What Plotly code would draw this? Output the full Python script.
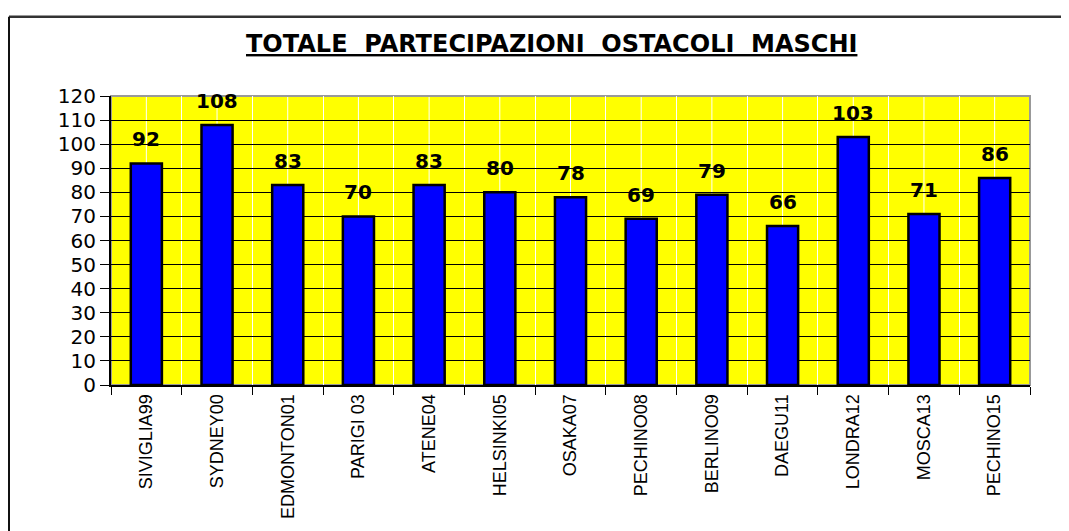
import plotly.graph_objects as go

# dati
edizioni = ["SIVIGLIA99", "SYDNEY00", "EDMONTON01", "PARIGI 03", "ATENE04", "HELSINKI05",
            "OSAKA07", "PECHINO08", "BERLINO09", "DAEGU11", "LONDRA12", "MOSCA13", "PECHINO15"]
partecipazioni = [92, 108, 83, 70, 83, 80, 78, 69, 79, 66, 103, 71, 86]
y_ticks = list(range(0, 121, 10))

# la pagina html ha 8px di margine sul body
O = 8
W, H = 1069 - O, 531 - O
# area grafico in coordinate schermo: x 111..1030, y 96..388
L, R, T, B = 111 - O, 1069 - 1030, 96 - O, 531 - 388
pw, ph = W - L - R, H - T - B


def px_x(p):
    return (p - O - L) / pw


def px_y(p):
    return (H - B - (p - O)) / ph


fig = go.Figure()
fig.add_bar(x=edizioni, y=partecipazioni, width=0.44,
            marker_color="#0000FF", marker_line_color="black", marker_line_width=2.5,
            hoverinfo="x+y")

# etichette valori sopra le barre
for e, v in zip(edizioni, partecipazioni):
    fig.add_annotation(x=e, y=v, text="<b>%d</b>" % v, showarrow=False,
                       yanchor="bottom", yshift=10,
                       font=dict(family="DejaVu Sans, Arial", size=20, color="black"))

# griglia verticale bianca al centro delle categorie
for e in edizioni:
    fig.add_shape(type="line", xref="x", yref="paper", x0=e, x1=e, y0=0, y1=1,
                  line=dict(color="white", width=1), layer="below")

# bordo area grafico
fig.add_shape(type="rect", xref="paper", yref="paper", x0=0, x1=1, y0=0, y1=1,
              line=dict(color="#999999", width=2), layer="below")

# cornice esterna (sopra e a sinistra)
fig.add_shape(type="line", xref="paper", yref="paper", x0=px_x(9), x1=px_x(1075),
              y0=px_y(16), y1=px_y(16), line=dict(color="#333333", width=2.5))
fig.add_shape(type="line", xref="paper", yref="paper", x0=px_x(9), x1=px_x(9),
              y0=px_y(16), y1=px_y(540), line=dict(color="#111111", width=2))

# titolo
sp = "\u00a0" * 2
fig.add_annotation(xref="paper", yref="paper", x=px_x(551), y=px_y(43),
                   text="<b><u>TOTALE" + sp + "PARTECIPAZIONI" + sp + "OSTACOLI" + sp + "MASCHI</u></b>",
                   showarrow=False, xanchor="center", yanchor="middle",
                   font=dict(family="DejaVu Sans, Arial", size=24, color="black"))

fig.update_layout(
    width=W, height=H, autosize=False,
    margin=dict(l=L, r=R, t=T, b=B),
    paper_bgcolor="white", plot_bgcolor="#FFFF00",
    showlegend=False, bargap=0.56,
    xaxis=dict(tickson="boundaries", ticks="outside", ticklen=8, tickcolor="black",
               showgrid=True, gridcolor="white", gridwidth=1,
               showline=True, linecolor="black", linewidth=2,
               tickangle=-90,
               tickfont=dict(family="Liberation Sans Narrow, Arial Narrow, Liberation Sans", size=18, color="black")),
    yaxis=dict(range=[0, 120], tickvals=y_ticks, ticks="outside", ticklen=9, tickcolor="black",
               showgrid=True, gridcolor="black", gridwidth=1,
               showline=True, linecolor="black", linewidth=2, zeroline=False,
               tickfont=dict(family="DejaVu Sans, Arial", size=20, color="black")),
)

fig.write_html("out.html")
